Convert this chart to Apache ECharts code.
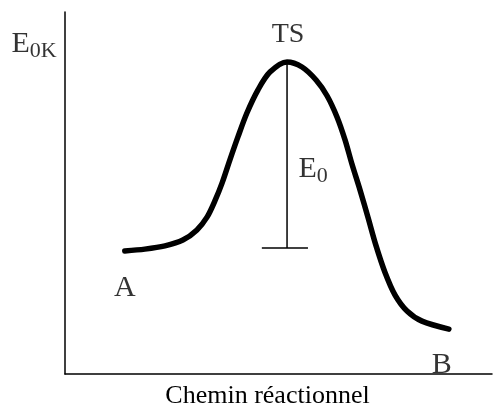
<!DOCTYPE html>
<html>
<head>
    <meta charset="utf-8">
    <script src="https://cdn.jsdelivr.net/npm/echarts@6/dist/echarts.min.js"></script>
</head>
<body style="margin:0">
    <div id="main" style="width: 494px;height:406px;"></div>
    <script type="text/javascript">
        // reaction coordinate (0..100) and energy (0..100)
        var pathX  = [14.0, 18.7, 23.4, 27.6, 30.9, 33.3, 35.1, 36.8, 38.6, 40.5, 42.6, 45.2, 48.0, 52.0,
                      55.5, 58.8, 61.4, 63.7, 65.6, 67.2, 69.1, 71.0, 72.8, 74.9, 77.3, 80.1, 83.6, 89.9];
        var energy = [34.0, 34.5, 35.4, 37.0, 39.8, 43.4, 47.8, 52.8, 59.1, 65.5, 72.1, 78.5, 83.4, 86.2,
                      84.8, 81.2, 76.8, 71.0, 64.6, 58.0, 50.8, 43.1, 35.6, 28.2, 21.8, 17.4, 14.6, 12.4];
        var peakIndex = 13;
        var barrierBase = 34.8;   // level of the E0 bar
        var barWidth = [46.1, 56.9];
        var axisName = 'Chemin réactionnel';

        var font = 'Liberation Serif';
        var myChart = echarts.init(document.getElementById('main'));

        var curve = pathX.map(function (x, i) { return [x, energy[i]]; });
        var peakX = pathX[peakIndex], peakY = energy[peakIndex];

        var labels = [
            { value: [0, 100], text: 'E{s|0K}', offset: [-31, 32] },
            { value: [peakX, peakY], text: 'TS', offset: [1, -27], size: 28 },
            { value: [peakX, (peakY + barrierBase) / 2], text: 'E{s|0}', offset: [26, 14] },
            { value: curve[0], text: 'A', offset: [0, 37] },
            { value: curve[curve.length - 1], text: 'B', offset: [-7, 36] }
        ];

        var option = {
            animation: false,
            grid: { left: 65, top: 12, right: 2, bottom: 32, outerBoundsMode: 'none', containLabel: false },
            xAxis: {
                type: 'value', min: 0, max: 100,
                axisLine: { lineStyle: { color: '#000', width: 1.5 } },
                axisTick: { show: false }, axisLabel: { show: false }, splitLine: { show: false },
                name: axisName, nameLocation: 'middle', nameGap: 9,
                nameTextStyle: { fontFamily: font, fontSize: 26, color: '#000', padding: [0, 22, 0, 0] }
            },
            yAxis: {
                type: 'value', min: 0, max: 100,
                axisLine: { lineStyle: { color: '#000', width: 1.5 } },
                axisTick: { show: false }, axisLabel: { show: false }, splitLine: { show: false }
            },
            series: [
                {
                    type: 'line', data: curve, smooth: 0.3, symbol: 'none',
                    lineStyle: { color: '#000', width: 5.5, cap: 'round', join: 'round' }
                },
                {
                    type: 'line', symbol: 'none',
                    data: [[peakX, peakY], [peakX, barrierBase]],
                    lineStyle: { color: '#000', width: 1.5 }
                },
                {
                    type: 'line', symbol: 'none',
                    data: [[barWidth[0], barrierBase], [barWidth[1], barrierBase]],
                    lineStyle: { color: '#000', width: 1.5 }
                },
                {
                    type: 'scatter', clip: false, symbolSize: 1,
                    itemStyle: { color: 'rgba(0,0,0,0)' },
                    data: labels.map(function (l) {
                        var lab = { show: true, position: 'inside', offset: l.offset, formatter: l.text };
                        if (l.size) lab.fontSize = l.size;
                        return { value: l.value, label: lab };
                    }),
                    label: {
                        fontFamily: font, fontSize: 30, color: '#000',
                        rich: { s: { fontFamily: font, fontSize: 22, color: '#000', padding: [14, 0, 0, 0] } }
                    }
                }
            ]
        };
        myChart.setOption(option);
    </script>
</body>
</html>
